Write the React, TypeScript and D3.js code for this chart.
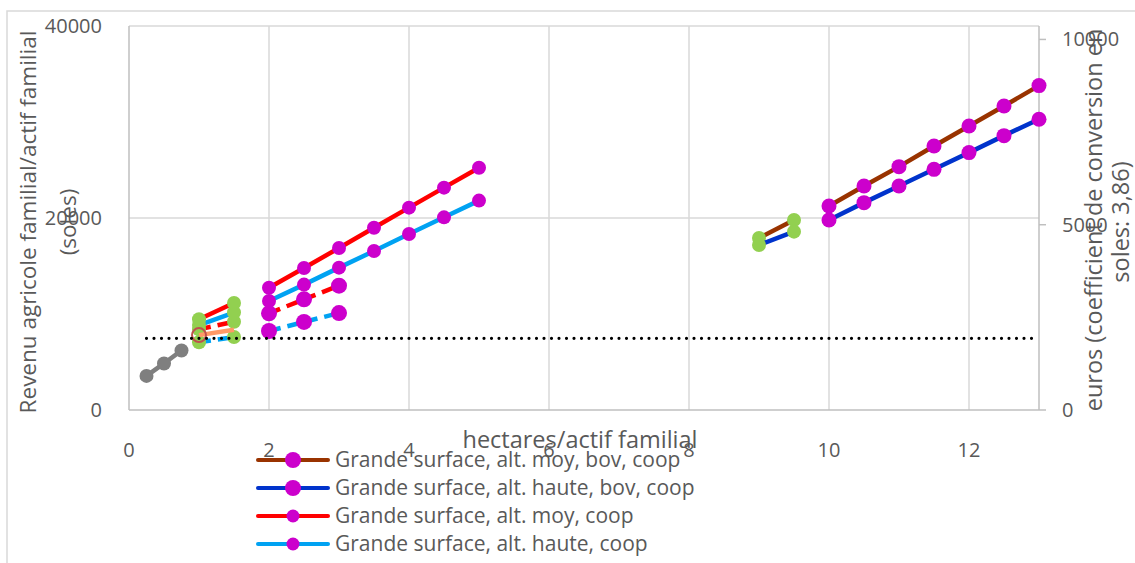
import * as d3 from 'd3'

// hectares per family worker
const xPetite = [0.25, 0.5, 0.75]
const xMoyenne = [1, 1.5]
const xGrande = [2, 2.5, 3, 3.5, 4, 4.5, 5]
const xGrandeCourt = [2, 2.5, 3]
const xMoyenneBov = [9, 9.5]
const xGrandeBov = [10, 10.5, 11, 11.5, 12, 12.5, 13]

// revenu agricole familial / actif familial (soles)
const petite = [3550, 4850, 6200]
const moyRouge = [9450, 11150]
const moyBleuClair = [8850, 10150]
const moyRougeTirets = [8400, 9200]
const moySaumon = [7800, 8350]
const moyBleuTirets = [7050, 7600]
const grandeRouge = [12740, 14790, 16880, 18990, 21080, 23160, 25240]
const grandeBleuClair = [11350, 13060, 14830, 16560, 18330, 20070, 21810]
const grandeRougeTirets = [10070, 11530, 12950]
const grandeBleuTirets = [8230, 9170, 10100]
const moyBovMarron = [17920, 19790]
const moyBovBleu = [17190, 18580]
const grandeBovMarron = [21250, 23330, 25350, 27500, 29580, 31670, 33790]
const grandeBovBleu = [19790, 21600, 23330, 25070, 26810, 28580, 30280]

const seuilX = [0.25, 13]
const seuil = 7470

const xTicks = [0, 2, 4, 6, 8, 10, 12]
const yTicks = [0, 20000, 40000]
const yTicksEuro = [0, 5000, 10000]
const conversion = 3.86

const legendLabels = [
  'Grande surface, alt. moy, bov, coop',
  'Grande surface, alt. haute, bov, coop',
  'Grande surface, alt. moy, coop',
  'Grande surface, alt. haute, coop',
]

const C = {
  brown: '#993300',
  blue: '#0033CC',
  red: '#FF0000',
  lightBlue: '#00A2F2',
  salmon: '#FF9966',
  gray: '#7F7F7F',
  magenta: '#CC00CC',
  green: '#92D050',
  text: '#595959',
}

interface Serie {
  xs: number[]
  ys: number[]
  color: string
  dash?: string
  marker: string
  r: number
  hollow?: boolean
  markerIdx?: number[]
}

const series: Serie[] = [
  { xs: xPetite, ys: petite, color: C.gray, marker: C.gray, r: 7 },
  { xs: xMoyenne, ys: moyBleuTirets, color: C.lightBlue, dash: '12 7', marker: C.green, r: 7 },
  { xs: xMoyenne, ys: moyRougeTirets, color: C.red, dash: '12 7', marker: C.green, r: 7 },
  { xs: xMoyenne, ys: moyBleuClair, color: C.lightBlue, marker: C.green, r: 7 },
  { xs: xMoyenne, ys: moyRouge, color: C.red, marker: C.green, r: 7 },
  { xs: xMoyenne, ys: moySaumon, color: C.salmon, marker: '#C0504D', r: 7, hollow: true, markerIdx: [0] },
  { xs: xGrandeCourt, ys: grandeBleuTirets, color: C.lightBlue, dash: '12 7', marker: C.magenta, r: 8 },
  { xs: xGrandeCourt, ys: grandeRougeTirets, color: C.red, dash: '12 7', marker: C.magenta, r: 8 },
  { xs: xGrande, ys: grandeBleuClair, color: C.lightBlue, marker: C.magenta, r: 7 },
  { xs: xGrande, ys: grandeRouge, color: C.red, marker: C.magenta, r: 7 },
  { xs: xMoyenneBov, ys: moyBovMarron, color: C.brown, marker: C.green, r: 7 },
  { xs: xMoyenneBov, ys: moyBovBleu, color: C.blue, marker: C.green, r: 7 },
  { xs: xGrandeBov, ys: grandeBovMarron, color: C.brown, marker: C.magenta, r: 7.5 },
  { xs: xGrandeBov, ys: grandeBovBleu, color: C.blue, marker: C.magenta, r: 7.5 },
]

const legendItems = [
  { color: C.brown, r: 8 },
  { color: C.blue, r: 8 },
  { color: C.red, r: 6.5 },
  { color: C.lightBlue, r: 6.5 },
]

const W = 1135
const H = 563
const left = 129
const right = 1039
const top = 26
const bottom = 410
const font = '"Open Sans", sans-serif'

export default function App() {
  const x = d3.scaleLinear().domain([0, 13]).range([left, right])
  const y = d3.scaleLinear().domain([0, 40000]).range([bottom, top])
  const yEuro = d3.scaleLinear().domain([0, 40000 / conversion]).range([bottom, top])
  const line = d3
    .line<[number, number]>()
    .x((d) => x(d[0]))
    .y((d) => y(d[1]))

  const midY = 222

  return (
    <svg
      width={W}
      height={H}
      style={{ position: 'absolute', left: 0, top: 0, background: '#fff' }}
      fontFamily={font}
    >
      {/* chart border */}
      <path d={`M7,${H} V11 H${W}`} fill="none" stroke="#D9D9D9" strokeWidth={1.5} />

      {/* grid */}
      {xTicks.filter((t) => t > 0).map((t) => (
        <line key={t} x1={x(t)} x2={x(t)} y1={top} y2={bottom} stroke="#D9D9D9" strokeWidth={1.5} />
      ))}
      {yTicks.filter((t) => t > 0).map((t) => (
        <line key={t} x1={left} x2={right} y1={y(t)} y2={y(t)} stroke="#D9D9D9" strokeWidth={1.5} />
      ))}
      <line x1={left} x2={left} y1={top} y2={bottom} stroke="#BFBFBF" strokeWidth={1.5} />
      <line x1={left} x2={right} y1={bottom} y2={bottom} stroke="#BFBFBF" strokeWidth={1.5} />
      <line x1={right} x2={right} y1={top} y2={bottom} stroke="#BFBFBF" strokeWidth={1.5} />
      {yTicksEuro.map((t) => (
        <line key={t} x1={right} x2={right + 7} y1={yEuro(t)} y2={yEuro(t)} stroke="#BFBFBF" strokeWidth={1.5} />
      ))}

      {/* series */}
      {series.map((s, i) => {
        const pts = s.xs.map((v, j) => [v, s.ys[j]] as [number, number])
        const idx = s.markerIdx ?? pts.map((_, j) => j)
        return (
          <g key={i}>
            <path
              d={line(pts) ?? ''}
              fill="none"
              stroke={s.color}
              strokeWidth={4.5}
              strokeDasharray={s.dash}
            />
            {idx.map((j) => (
              <circle
                key={j}
                cx={x(pts[j][0])}
                cy={y(pts[j][1])}
                r={s.r}
                fill={s.hollow ? 'none' : s.marker}
                stroke={s.hollow ? s.marker : 'none'}
                strokeWidth={s.hollow ? 2 : 0}
              />
            ))}
          </g>
        )
      })}

      {/* seuil */}
      <line
        x1={x(seuilX[0])}
        x2={x(seuilX[1])}
        y1={y(seuil)}
        y2={y(seuil)}
        stroke="#000"
        strokeWidth={3.2}
        strokeLinecap="round"
        strokeDasharray="0 7.5"
      />

      {/* axes labels */}
      <g fill={C.text} fontSize={20}>
        {yTicks.map((t) => (
          <text key={t} x={102} y={y(t)} dy="0.35em" textAnchor="end">
            {t}
          </text>
        ))}
        {yTicksEuro.map((t) => (
          <text key={t} x={1062} y={yEuro(t)} dy="0.35em" textAnchor="start">
            {t}
          </text>
        ))}
        {xTicks.map((t) => (
          <text key={t} x={x(t)} y={457} textAnchor="middle">
            {t}
          </text>
        ))}
      </g>
      <g fill={C.text}>
        <text x={580} y={448} textAnchor="middle" fontSize={23.5}>
          hectares/actif familial
        </text>
        <text transform={`translate(36,${midY}) rotate(-90)`} textAnchor="middle" fontSize={22.5}>
          Revenu agricole familial/actif familial
        </text>
        <text transform={`translate(76,${midY}) rotate(-90)`} textAnchor="middle" fontSize={22.5}>
          (soles)
        </text>
        <text transform={`translate(1102,${midY - 2}) rotate(-90)`} textAnchor="middle" fontSize={23.5}>
          euros (coefficient de conversion en
        </text>
        <text transform={`translate(1129,${midY}) rotate(-90)`} textAnchor="middle" fontSize={23.5}>
          soles: 3,86)
        </text>
      </g>

      {/* legend */}
      <g fontSize={21} fill={C.text}>
        {legendLabels.map((lab, i) => {
          const ly = 460 + i * 28
          const it = legendItems[i]
          return (
            <g key={lab}>
              <line x1={258} x2={328} y1={ly} y2={ly} stroke={it.color} strokeWidth={4} strokeLinecap="round" />
              <circle cx={293} cy={ly} r={it.r} fill={C.magenta} />
              <text x={335} y={ly} dy="0.35em">
                {lab}
              </text>
            </g>
          )
        })}
      </g>
    </svg>
  )
}
